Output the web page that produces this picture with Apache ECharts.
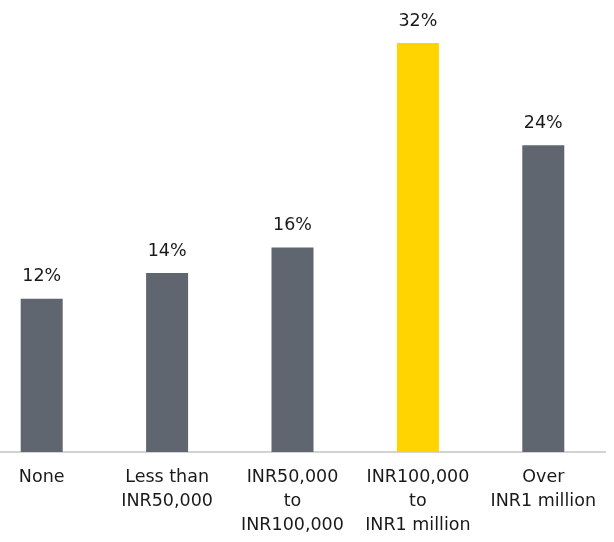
<!DOCTYPE html>
<html>
<head>
<meta charset="utf-8">
<script src="https://cdn.jsdelivr.net/npm/echarts@6/dist/echarts.min.js"></script>
<style>
  html, body { margin: 0; padding: 0; background: #fff; overflow: hidden; }
  #wrap { width: 614px; height: 542px; overflow: hidden; position: relative; }
  #chart { width: 627px; height: 542px; position: absolute; left: -21px; top: 0; }
</style>
</head>
<body>
<div id="wrap"><div id="chart"></div></div>
<script>
const categories = ['None', 'Less than\nINR50,000', 'INR50,000\nto\nINR100,000', 'INR100,000\nto\nINR1 million', 'Over\nINR1 million'];
const values = [12, 14, 16, 32, 24];
const highlight = [false, false, false, true, false];

var chartDom = document.getElementById('chart');
var myChart = echarts.init(chartDom);

var barData = [];
for (var i = 0; i < values.length; i++) {
    barData.push({
        value: values[i],
        itemStyle: { color: highlight[i] ? '#ffd400' : '#5f6670' }
    });
}

var option = {
    animation: false,
    grid: { left: 0, right: 0, top: 43, bottom: 90, containLabel: false },
    xAxis: {
        type: 'category',
        data: categories,
        axisLine: { lineStyle: { color: '#c4c4c4', width: 1.5 } },
        axisTick: { show: false },
        axisLabel: {
            interval: 0,
            margin: 13,
            color: '#1a1a1a',
            fontFamily: 'DejaVu Sans',
            fontSize: 17.5,
            lineHeight: 24
        }
    },
    yAxis: {
        type: 'value',
        min: 0,
        max: 32,
        show: false,
        splitLine: { show: false }
    },
    series: [{
        type: 'bar',
        data: barData,
        barWidth: 42,
        label: {
            show: true,
            position: 'top',
            distance: 13,
            formatter: '{c}%',
            color: '#1a1a1a',
            fontFamily: 'DejaVu Sans',
            fontSize: 17.5
        }
    }]
};
myChart.setOption(option);
</script>
</body>
</html>
